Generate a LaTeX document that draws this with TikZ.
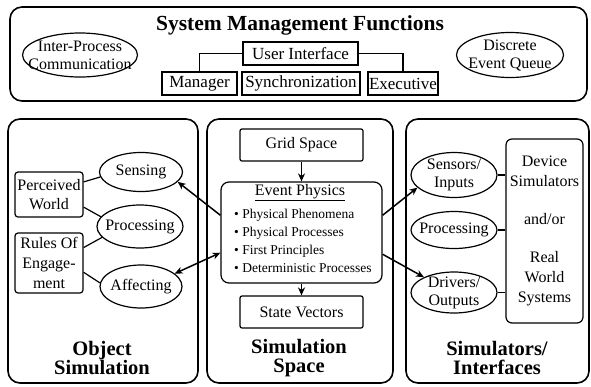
\documentclass[tikz,border=0pt]{standalone}
\usepackage{fontspec}
\setmainfont{Liberation Serif}
\usetikzlibrary{shapes.geometric,arrows.meta}

\begin{document}
\begin{tikzpicture}[x=1pt,y=-1pt,
  panel/.style={draw,line width=1.6pt,rounded corners=12pt},
  box/.style={draw,line width=1.2pt,inner sep=0pt,align=center,font=\fontsize{16}{19}\selectfont},
  sysbox/.style={box,minimum height=23pt,font=\fontsize{17}{19}\selectfont},
  oval/.style={draw,ellipse,line width=1.2pt,inner sep=0pt},
  txt/.style={inner sep=0pt,align=center,font=\fontsize{16}{18}\selectfont},
  title/.style={inner sep=0pt,align=center,font=\fontsize{20.5}{19.5}\selectfont\bfseries},
  link/.style={line width=1.2pt},
  flow/.style={line width=1.5pt},
  >={Stealth[length=8pt,width=7pt]}]
\useasboundingbox (0,0) rectangle (591,386);

% System management functions (top)
\draw[panel] (10,7) rectangle (587,101);
\node[title,font=\fontsize{21.5}{24}\selectfont\bfseries] (sysname) at (300,25) {System Management Functions};
\node[oval,minimum width=115pt,minimum height=44pt] (ipc) at (80,55) {};
\node[txt] (ipctxt) at (ipc) {Inter-Process\\Communication};
\node[oval,minimum width=107pt,minimum height=45pt] (deq) at (510,55) {};
\node[txt] (deqtxt) at (deq) {Discrete\\Event Queue};
\node[sysbox,minimum width=115pt] (ui) at (300.5,53.5) {User Interface};
\node[sysbox,minimum width=75pt] (mgr) at (199.5,83.5) {Manager};
\node[sysbox,minimum width=118pt] (sync) at (301,83.5) {Synchronization};
\node[sysbox,minimum width=70pt] (exec) at (403,83.5) {Executive};
\draw[link] (ui.west) -| (mgr.north);
\draw[link] (ui.east) -| (exec.north);

% Object simulation (left)
\draw[panel] (8,119) rectangle (198,383);
\node[oval,minimum width=83pt,minimum height=39pt] (sense) at (141,172) {};
\node[txt] (sensetxt) at (sense) {Sensing};
\node[oval,minimum width=86pt,minimum height=43pt] (proc) at (140,226.5) {};
\node[txt] (proctxt) at (proc) {Processing};
\node[oval,minimum width=82pt,minimum height=43pt] (affect) at (141,286.5) {};
\node[txt] (affecttxt) at (affect) {Affecting};
\node[box,rounded corners=3pt,minimum width=68pt,minimum height=45pt] (world) at (49,194.5) {Perceived\\World};
\node[box,rounded corners=3pt,minimum width=68pt,minimum height=60pt,font=\fontsize{16}{20}\selectfont] (rules) at (49,263) {Rules Of\\Engage-\\ment};
\draw[link] (world.20) -- (sense.187);
\draw[link] (world.340) -- (proc.166);
\draw[link] (rules.24) -- (proc.196);
\draw[link] (rules.345) -- (affect.175);
\node[title] (objname) at (102,358) {Object\\Simulation};

% Simulation space (middle)
\draw[panel] (207,119) rectangle (393,383);
\node[box,rounded corners=2pt,minimum width=123pt,minimum height=32pt] (grid) at (301.5,145) {Grid Space};
\node[box,rounded corners=8pt,minimum width=161pt,minimum height=101pt] (ep) at (301.5,232.5) {};
\node[txt] (ephead) at (300,193) {\underline{Event Physics}};
\node[txt,anchor=west,align=left,font=\fontsize{13.5}{18}\selectfont] (eplist) at (234,241)
  {\textbullet\ Physical Phenomena\\\textbullet\ Physical Processes\\\textbullet\ First Principles\\\textbullet\ Deterministic Processes};
\node[box,rounded corners=2pt,minimum width=123pt,minimum height=32pt] (state) at (301.5,312) {State Vectors};
\draw[flow,->] (grid) -- (ep);
\draw[flow,->] (ep) -- (state);
\node[title] (simname) at (299,358) {Simulation\\Space};

% Simulators and interfaces (right)
\draw[panel] (406,119) rectangle (589,383);
\node[oval,minimum width=86pt,minimum height=45pt] (sens) at (454,175) {};
\node[txt] (senstxt) at (sens) {Sensors/\\Inputs};
\node[oval,minimum width=86pt,minimum height=37pt] (proc2) at (454,230) {};
\node[txt] (proc2txt) at (proc2) {Processing};
\node[oval,minimum width=86pt,minimum height=41pt] (drv) at (454,292.5) {};
\node[txt] (drvtxt) at (drv) {Drivers/\\Outputs};
\node[box,rounded corners=6pt,minimum width=77pt,minimum height=184pt,font=\fontsize{16}{20}\selectfont] (dev) at (544.5,231)
  {Device\\Simulators\\[18pt]and/or\\[18pt]Real\\World\\Systems};
\draw[link] (sens.east) -- (sens.east -| dev.west);
\draw[link] (proc2.east) -- (proc2.east -| dev.west);
\draw[link] (drv.east) -- (drv.east -| dev.west);
\node[title] (ifname) at (497,358) {Simulators/\\Interfaces};

% Arrows out of the event physics
\draw[flow,->] (ep.168) -- (sense.-15);
\draw[flow,<->] (ep.194) -- (affect.21);
\draw[flow,->] (ep.12) -- (sens.199);
\draw[flow,->] (ep.345) -- (drv.153);

\end{tikzpicture}
\end{document}
